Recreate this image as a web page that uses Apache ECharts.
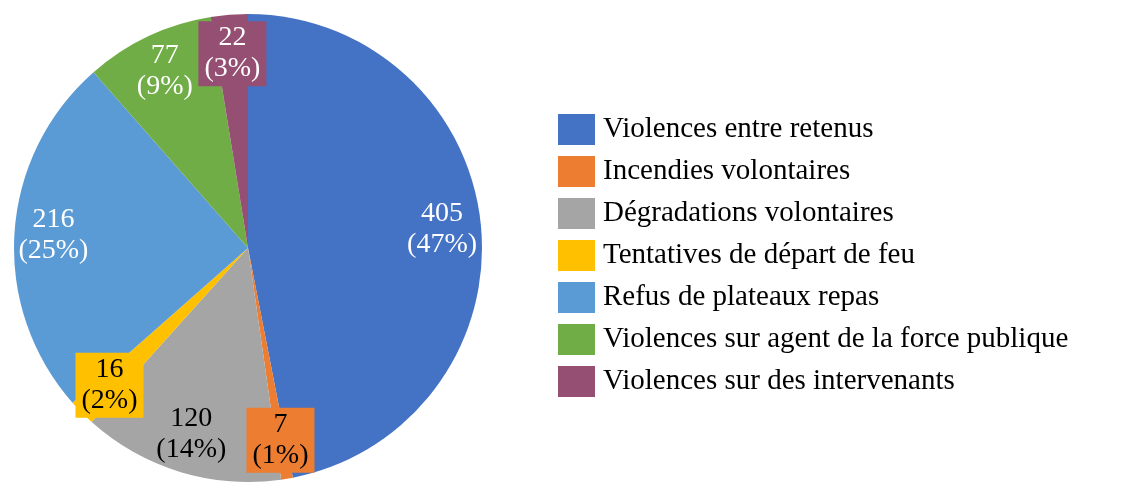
<!DOCTYPE html>
<html><head><meta charset="utf-8">
<script src="https://cdn.jsdelivr.net/npm/echarts@6/dist/echarts.min.js"></script>
<style>html,body{margin:0;padding:0;background:#fff}#c{width:1140px;height:496px}</style>
</head><body><div id="c"></div>
<script>
const categories = ["Violences entre retenus","Incendies volontaires","Dégradations volontaires","Tentatives de départ de feu","Refus de plateaux repas","Violences sur agent de la force publique","Violences sur des intervenants"];
const values = [405, 7, 120, 16, 216, 77, 22];
const colors = ["#4472C4","#ED7D31","#A5A5A5","#FFC000","#5B9BD5","#70AD47","#954F72"];
const labelColors = ["#fff","#000","#000","#000","#fff","#fff","#fff"];
const boxed = [false, true, false, true, false, false, true];
const FONT = "'Liberation Serif', serif";

const chart = echarts.init(document.getElementById('c'), null, {renderer:'canvas'});
const mainData = categories.map((n,i)=>({name:n, value:values[i], itemStyle:{color:colors[i]}}));
const labelData = categories.map((n,i)=>({
  name:n, value:values[i],
  itemStyle:{color:'rgba(0,0,0,0)'},
  label:{
    color:labelColors[i],
    backgroundColor: boxed[i] ? colors[i] : 'transparent',
    padding: boxed[i] ? [2,6,1,6] : 0
  }
}));
chart.setOption({
  animation:false,
  legend:{
    orient:'vertical', left:553, top:109,
    itemWidth:37, itemHeight:31, itemGap:11,
    icon:'rect',
    textStyle:{fontFamily:FONT, fontSize:29, lineHeight:31, color:'#000', padding:[0,0,0,3]},
    data: categories.map((n,i)=>({name:n, itemStyle:{color:colors[i]}})),
    selectedMode:false
  },
  series:[
    {
      type:'pie', center:[248,248], radius:[0,234], startAngle:90, clockwise:true,
      avoidLabelOverlap:false, silent:true,
      label:{show:false}, labelLine:{show:false},
      itemStyle:{borderWidth:0},
      data: mainData
    },
    {
      type:'pie', center:[248,248], radius:[150,234], startAngle:90, clockwise:true,
      avoidLabelOverlap:false, silent:true, legendHoverLink:false,
      labelLine:{show:false},
      label:{
        show:true, position:'inside',
        fontFamily:FONT, fontSize:28, lineHeight:31,
        formatter: p => p.value + '\n(' + Math.round(p.percent) + '%)'
      },
      data: labelData
    }
  ]
});
</script></body></html>
